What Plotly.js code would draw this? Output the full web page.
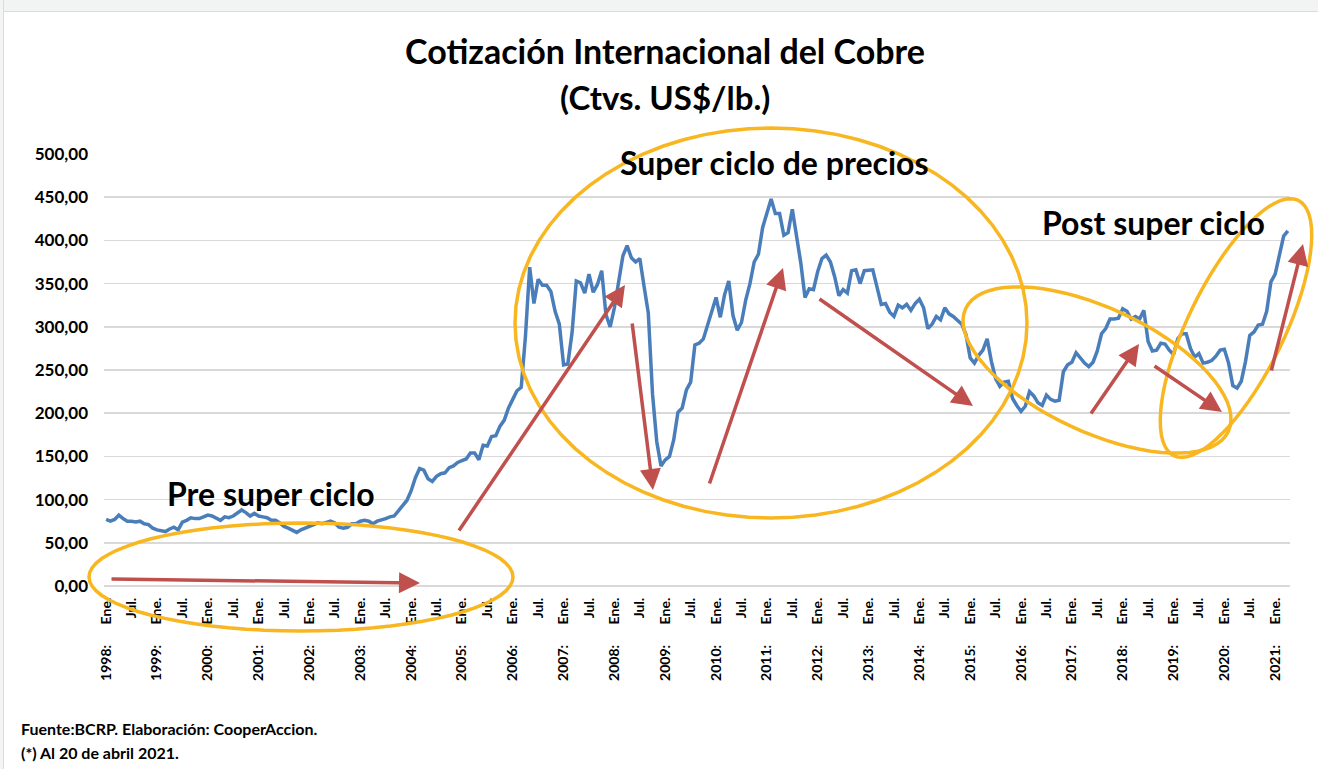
<!DOCTYPE html>
<html>
<head>
<meta charset="utf-8">
<script src="https://cdn.plot.ly/plotly-3.0.1.min.js"></script>
<style>
  html, body { margin:0; padding:0; background:#ffffff; }
  #wrap { position:relative; width:1318px; height:769px; overflow:hidden; }
  #chart { position:absolute; left:0; top:0; width:1318px; height:769px; }
  #band { position:absolute; left:0; top:0; width:1318px; height:11px; background:#f2f3f3; border-bottom:1px solid #dcdcdc; z-index:5; }
  #side { position:absolute; left:0; top:0; width:3px; height:769px; background:#f2f3f3; border-right:1px solid #dcdcdc; z-index:5; }
</style>
</head>
<body>
<div id="wrap">
  <div id="chart"></div>
  <div id="band"></div>
  <div id="side"></div>
</div>
<script>
// ---- Data: monthly copper price, cents US$/lb (BCRP), Jan 1998 - Apr 2021 ----
const years = [1998,1999,2000,2001,2002,2003,2004,2005,2006,2007,2008,2009,2010,2011,2012,2013,2014,2015,2016,2017,2018,2019,2020,2021];
const monthNames = ['Ene.','Feb.','Mar.','Abr.','May.','Jun.','Jul.','Ago.','Set.','Oct.','Nov.','Dic.'];
const p1998 = [77, 75, 77, 82, 78, 75, 75, 74, 75, 72, 71, 67];
const p1999 = [65, 64, 63, 66, 68, 65, 74, 76, 79, 78, 78, 80];
const p2000 = [82, 81, 78, 76, 80, 79, 81, 84, 88, 85, 81, 84];
const p2001 = [81, 80, 79, 76, 76, 73, 69, 67, 65, 62, 65, 67];
const p2002 = [68, 71, 73, 72, 73, 75, 73, 68, 67, 68, 72, 72];
const p2003 = [75, 76, 75, 72, 75, 76, 78, 80, 81, 87, 93, 99];
const p2004 = [110, 125, 136, 134, 124, 121, 127, 130, 131, 137, 139, 143];
const p2005 = [145, 147, 154, 154, 146, 163, 162, 173, 174, 185, 192, 206];
const p2006 = [216, 226, 230, 289, 369, 327, 355, 348, 348, 341, 318, 303];
const p2007 = [256, 257, 293, 353, 351, 339, 361, 340, 349, 365, 314, 300];
const p2008 = [322, 354, 382, 394, 380, 375, 379, 347, 316, 222, 167, 139];
const p2009 = [146, 150, 169, 201, 206, 227, 236, 279, 281, 286, 302, 317];
const p2010 = [334, 311, 337, 353, 313, 296, 305, 331, 350, 375, 384, 415];
const p2011 = [433, 448, 431, 431, 406, 409, 436, 407, 374, 334, 344, 343];
const p2012 = [364, 379, 383, 375, 358, 336, 343, 339, 365, 366, 350, 365];
const p2013 = [366, 366, 346, 326, 327, 317, 312, 325, 322, 326, 319, 327];
const p2014 = [332, 322, 298, 303, 312, 308, 322, 315, 312, 307, 303, 291];
const p2015 = [264, 258, 267, 273, 286, 260, 240, 231, 236, 237, 217, 209];
const p2016 = [202, 208, 225, 220, 212, 209, 221, 216, 214, 215, 248, 256];
const p2017 = [259, 270, 264, 258, 254, 259, 272, 292, 298, 309, 309, 310];
const p2018 = [321, 318, 309, 312, 309, 319, 283, 272, 273, 281, 280, 273];
const p2019 = [268, 286, 292, 292, 275, 265, 269, 258, 259, 261, 266, 273];
const p2020 = [274, 258, 232, 229, 237, 260, 290, 294, 302, 303, 318, 352];
const p2021 = [361, 385, 405, 411];
const yearValues = [p1998,p1999,p2000,p2001,p2002,p2003,p2004,p2005,p2006,p2007,p2008,p2009,
                    p2010,p2011,p2012,p2013,p2014,p2015,p2016,p2017,p2018,p2019,p2020,p2021];

const titleText = 'Cotización Internacional del Cobre';
const subtitleText = '(Ctvs. US$/lb.)';
const regionLabels = ['Pre super ciclo', 'Super ciclo de precios', 'Post super ciclo'];
const sourceLines = ['Fuente:BCRP. Elaboración: CooperAccion.', '(*) Al 20 de abril 2021.'];

// ---- Build category axis ----
const cats = [], vals = [], tickvals = [], ticktext = [];
const NB = '\u00A0';
years.forEach((yr, yi) => {
  yearValues[yi].forEach((v, mi) => {
    const c = yr + '-' + String(mi + 1).padStart(2, '0');
    cats.push(c); vals.push(v);
    if (mi === 0) { tickvals.push(c); ticktext.push(yr + ':' + NB.repeat(6) + monthNames[0]); }
    if (mi === 6) { tickvals.push(c); ticktext.push(monthNames[6]); }
  });
});

// ---- Overlay geometry helpers (plot area in page pixels) ----
const G = {L:104, R:1290, T:154, B:586};
const pxX = x => (x - G.L) / (G.R - G.L);
const pxY = y => (G.B - y) / (G.B - G.T);

const FONT = 'Lato, "Open Sans", "DejaVu Sans", sans-serif';
const ORANGE = '#F8B621';
const RED = '#C0504D';

function ellipse(cx, cy, a, b, rotDeg) {
  const r = rotDeg * Math.PI / 180, n = 72;
  let d = '';
  for (let i = 0; i <= n; i++) {
    const t = 2 * Math.PI * i / n;
    const ex = a * Math.cos(t), ey = b * Math.sin(t);
    const sx = ex * Math.cos(r) - ey * Math.sin(r);
    const sy = ex * Math.sin(r) + ey * Math.cos(r); // screen (y down)
    d += (i === 0 ? 'M' : 'L') + sx.toFixed(2) + ',' + (-sy).toFixed(2);
  }
  d += 'Z';
  return {type:'path', xref:'paper', yref:'paper', xsizemode:'pixel', ysizemode:'pixel',
          xanchor:pxX(cx), yanchor:pxY(cy), path:d, line:{color:ORANGE, width:3.5}, layer:'above'};
}

const ellipses = [
  [301, 577, 212, 54, 0],
  [771, 323, 256, 195, 0],
  [1097, 370, 145, 62, 25],
  [1236, 328, 142, 48, -64]
];
const shapes = ellipses.map(e => ellipse(...e));

// arrows: tail (x,y) -> tip (x,y), page pixels
const arrows = [
  [110, 579, 420, 583],
  [458, 532, 625, 285],
  [632, 322, 653, 490],
  [709, 485, 783, 268],
  [818, 298, 973, 406],
  [1090, 415, 1139, 344],
  [1153, 365, 1222, 412],
  [1271, 372, 1303, 244]
];
const annotations = arrows.map(a => ({
  xref:'paper', yref:'paper', x:pxX(a[2]), y:pxY(a[3]), ax:a[0]-a[2], ay:a[1]-a[3],
  axref:'pixel', ayref:'pixel', text:'', showarrow:true, arrowhead:2, arrowsize:1.2,
  arrowwidth:3.5, arrowcolor:RED, standoff:0, startstandoff:0
}));

const regionPos = [[271, 493], [774, 162], [1153, 222]];
regionLabels.forEach((t, i) => annotations.push({
  xref:'paper', yref:'paper', x:pxX(regionPos[i][0]), y:pxY(regionPos[i][1]),
  xanchor:'center', yanchor:'middle', showarrow:false, text:t,
  font:{family:FONT, size:32, color:'#000', weight:700}
}));

annotations.push({
  xref:'paper', yref:'paper', x:pxX(665), y:pxY(97), xanchor:'center', yanchor:'middle',
  showarrow:false, text:subtitleText, font:{family:FONT, size:33, color:'#000', weight:700}
});
sourceLines.forEach((t, i) => annotations.push({
  xref:'paper', yref:'paper', x:pxX(19), y:pxY(728 + i * 24), xanchor:'left', yanchor:'middle',
  showarrow:false, text:t, font:{family:FONT, size:16, color:'#000', weight:700}
}));

const trace = {
  type:'scatter', mode:'lines', x:cats, y:vals,
  line:{color:'#4A7EBB', width:3.5, shape:'linear'}, hoverinfo:'x+y'
};

const layout = {
  width:1318, height:769,
  margin:{l:G.L, r:1318 - G.R, t:G.T, b:769 - G.B},
  paper_bgcolor:'#ffffff', plot_bgcolor:'#ffffff',
  separators:',.',
  showlegend:false,
  title:{text:titleText, xref:'container', yref:'container', x:665/1318, y:1 - 52/769,
         xanchor:'center', yanchor:'middle', font:{family:FONT, size:34, color:'#000', weight:700}},
  xaxis:{type:'category', range:[-0.5, cats.length - 0.5], tickmode:'array', tickvals:tickvals,
         ticktext:ticktext, tickangle:-90, showgrid:false, zeroline:false, showline:false,
         ticks:'', ticklabelstandoff:8, tickfont:{family:FONT, size:14, color:'#000', weight:700}},
  yaxis:{range:[0, 500], dtick:50, tick0:0, tickformat:'.2f', showgrid:true, gridcolor:'#d9d9d9',
         gridwidth:1.5, zeroline:true, zerolinecolor:'#d9d9d9', zerolinewidth:1.5, showline:false,
         ticks:'', ticklabelstandoff:15, tickfont:{family:FONT, size:17, color:'#000', weight:700}},
  shapes:shapes,
  annotations:annotations
};

Plotly.newPlot('chart', [trace], layout, {displayModeBar:false, staticPlot:true});
</script>
</body>
</html>
